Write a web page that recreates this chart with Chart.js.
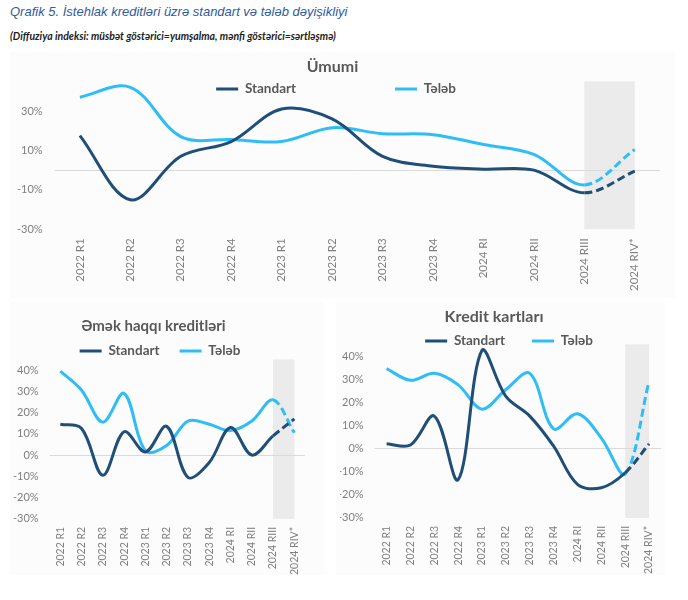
<!DOCTYPE html>
<html><head><meta charset="utf-8">
<script src="https://cdn.jsdelivr.net/npm/chart.js@4"></script>
<style>
body{margin:0;background:#fff;width:688px;height:600px;position:relative;overflow:hidden;font-family:'Lato',sans-serif}
#h1{position:absolute;left:10px;top:4px;font:italic 13px 'Liberation Sans',Arial,sans-serif;color:#2E5C9E;white-space:nowrap}
#h2{position:absolute;left:10px;top:30px;font:italic bold 10.5px 'Lato',sans-serif;color:#222;white-space:nowrap}
canvas{position:absolute}
.panel{position:absolute;background:#FCFCFC}
</style></head><body>
<div class="panel" style="left:10px;top:52px;width:665px;height:246px"></div>
<div class="panel" style="left:10px;top:302px;width:315px;height:273px"></div>
<div class="panel" style="left:336px;top:302px;width:329px;height:273px"></div>
<div id="h1">Qrafik 5. İstehlak kreditləri üzrə standart və tələb dəyişikliyi</div>
<div id="h2">(Diffuziya indeksi: müsbət göstərici=yumşalma, mənfi göstərici=sərtləşmə)</div>
<canvas id="c1" width="688" height="250" style="left:0;top:50px"></canvas>
<canvas id="c2" width="335" height="290" style="left:0;top:300px"></canvas>
<canvas id="c3" width="348" height="290" style="left:340px;top:300px"></canvas>
<script>
// ---- data ----
const categories = ['2022 R1','2022 R2','2022 R3','2022 R4','2023 R1','2023 R2','2023 R3','2023 R4','2024 RI','2024 RII','2024 RIII','2024 RIV*'];
const seriesNames = ['Standart','Tələb'];
const umumiStandart = [17.5, -15, 7, 14.5, 31, 26, 7, 2, 0.5, 0, -11.5, -0.5];
const umumiTeleb    = [37, 42, 17, 15.5, 14.5, 21.5, 18.5, 18, 13, 8, -7.5, 10.5];
const emekStandart  = [14.5, 12.5, -9.5, 11, 1.5, 13.5, -10.5, -3.5, 13, 0, 9, 17];
const emekTeleb     = [39.5, 30.5, 15.5, 29, 2, 4.5, 16, 14.5, 11.5, 16, 26, 10.5];
const kartStandart  = [2, 1.5, 14, -13.5, 42.5, 22.5, 14, 1, -15.5, -17, -10.5, 2];
const kartTeleb     = [34.5, 29.5, 32.5, 27.5, 17, 25.5, 32.5, 8.5, 15, 4.5, -11, 29];
const topTicks = [-30, -10, 10, 30];
const bottomTicks = [-30, -20, -10, 0, 10, 20, 30, 40];
const yMin = -30, yMax = 45;
const shadeFrom = '2024 RIII', shadeTo = '2024 RIV*';

const NAVY = '#1F4E79', LIGHT = '#2EBDF7';

const shadePlugin = {
  id: 'shade',
  beforeDatasetsDraw(chart) {
    const {ctx, chartArea: a, scales: {x, y}} = chart;
    const x0 = x.getPixelForValue(categories.indexOf(shadeFrom));
    const x1 = x.getPixelForValue(categories.indexOf(shadeTo));
    const yt = y.getPixelForValue(yMax);
    ctx.save();
    ctx.fillStyle = '#EBEBEB';
    ctx.fillRect(x0, yt, x1 - x0, a.bottom - yt);
    const z = Math.round(y.getPixelForValue(0)) + 0.5;
    ctx.strokeStyle = '#DADADA';
    ctx.lineWidth = 1;
    ctx.beginPath(); ctx.moveTo(a.left, z); ctx.lineTo(a.right, z); ctx.stroke();
    ctx.restore();
  }
};
const legendPlace = {
  id: 'legendPlace',
  afterLayout(chart, args, o) {
    const lg = chart.legend; if (!lg) return;
    const p = lg.options.labels.padding;
    lg.left = o.cx - 1000; lg.right = o.cx + 1000;
    lg.top = o.cy - p - o.fs / 2; lg.bottom = lg.top + o.fs + 2 * p + 4;
    lg.height = lg.bottom - lg.top; lg.width = 2000;
  }
};

function makeChart(id, title, std, tel, yTicks, L) {
  const n = categories.length;
  const mk = (label, data, color) => ({
    label, data, borderColor: color, backgroundColor: color, borderWidth: 3,
    pointRadius: 0, tension: 0.35, fill: false,
    segment: { borderDash: c => c.p0DataIndex === n - 2 ? [8, 4] : undefined }
  });
  return new Chart(document.getElementById(id), {
    type: 'line',
    data: { labels: categories, datasets: [mk(seriesNames[0], std, NAVY), mk(seriesNames[1], tel, LIGHT)] },
    plugins: [shadePlugin, legendPlace],
    options: {
      responsive: false, animation: false, events: [],
      layout: { padding: L.pad },
      plugins: {
        title: { display: true, text: title, color: '#595959',
          font: { family: 'Lato', size: L.tfs, weight: 'bold' }, padding: L.tpad },
        legend: { position: 'top', maxHeight: 1,
          labels: { boxWidth: 22, boxHeight: 3, padding: L.gap, color: '#595959',
            font: { family: 'Lato', size: 13.5, weight: 'bold' },
            generateLabels: ch => ch.data.datasets.map((d, i) => ({
              text: d.label, fillStyle: d.borderColor, strokeStyle: d.borderColor,
              lineWidth: 0, fontColor: '#595959', datasetIndex: i, hidden: false })) } },
        legendPlace: { cx: L.cx, cy: L.cy, fs: 13.5 },
        tooltip: { enabled: false }
      },
      scales: {
        x: { offset: true, grid: { display: false, drawTicks: false }, border: { display: false },
          ticks: { color: '#7F7F7F', font: { family: 'Lato', size: L.xfs }, minRotation: 90, maxRotation: 90,
            padding: L.xpad, autoSkip: false } },
        y: { min: yMin, max: yMax, grid: { display: false, drawTicks: false }, border: { display: false },
          afterBuildTicks: ax => { ax.ticks = yTicks.map(v => ({ value: v })); },
          ticks: { color: '#7F7F7F', font: { family: 'Lato', size: 11 }, padding: L.ypad,
            callback: v => v + '%' } }
      }
    }
  });
}

makeChart('c1', 'Ümumi', umumiStandart, umumiTeleb, topTicks,
  { pad: { left: 5, right: 28, top: 0, bottom: 0 }, tfs: 16, tpad: { top: 7.6, bottom: 3.6 },
    gap: 99, cx: 336, cy: 39, xfs: 11.5, xpad: 9, ypad: 12 });
makeChart('c2', 'Əmək haqqı kreditləri', emekStandart, emekTeleb, bottomTicks,
  { pad: { left: 2, right: 30, top: 0, bottom: 7 }, tfs: 15, tpad: { top: 17.2, bottom: 23.2 },
    gap: 20, cx: 160, cy: 51, xfs: 10.5, xpad: 8, ypad: 11 });
makeChart('c3', 'Kredit kartları', kartStandart, kartTeleb, bottomTicks,
  { pad: { left: -13, right: 27, top: 0, bottom: 8 }, tfs: 16, tpad: { top: 7.6, bottom: 16.6 },
    gap: 27, cx: 169, cy: 41, xfs: 10.5, xpad: 8, ypad: 11 });
</script>
</body></html>
